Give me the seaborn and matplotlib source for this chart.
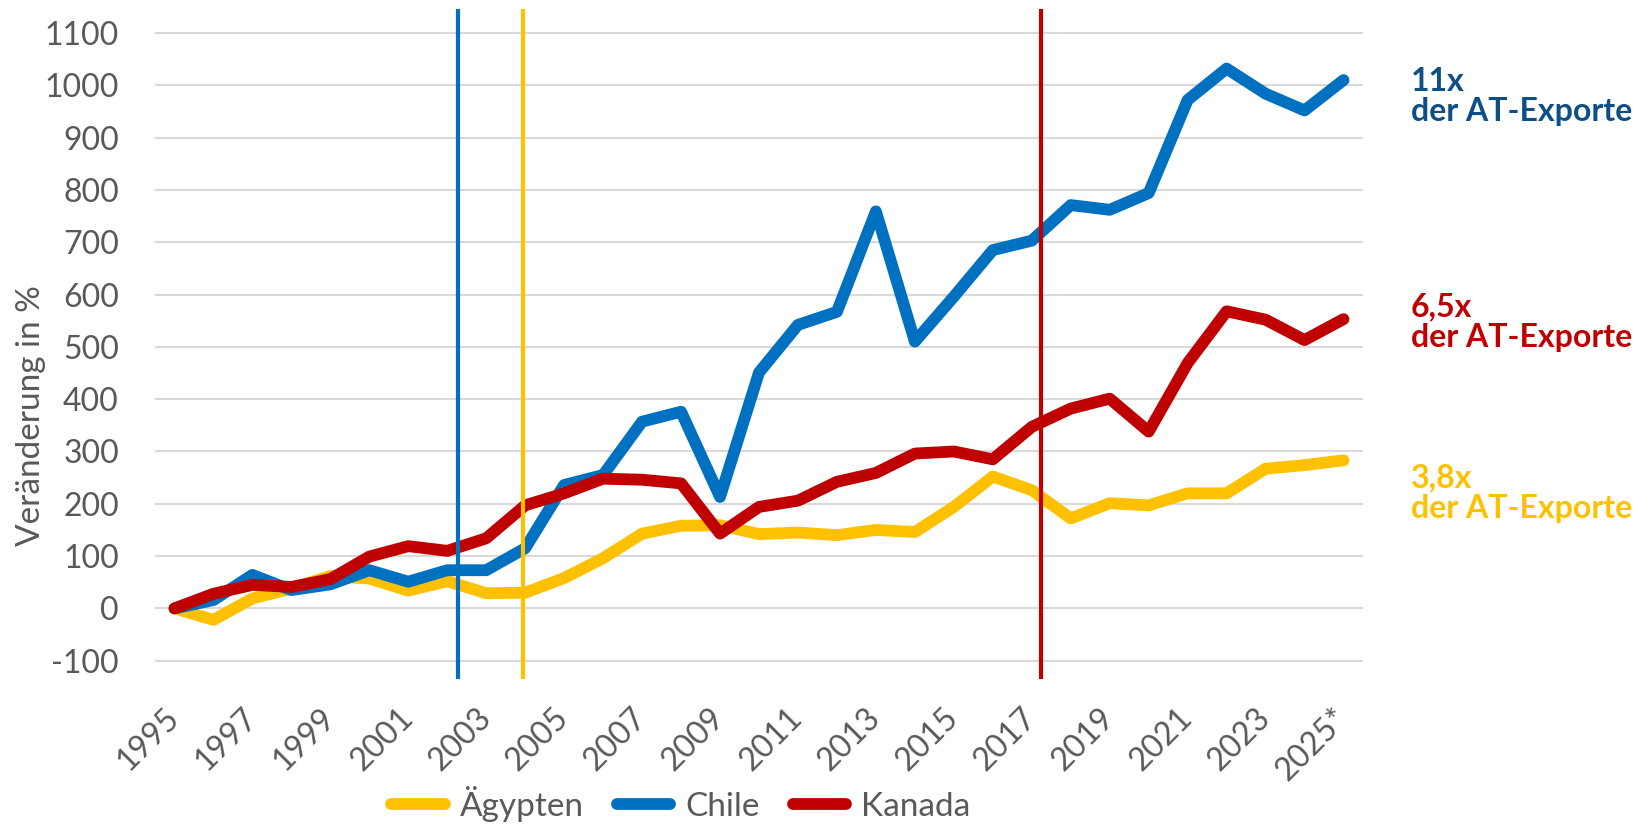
import pandas as pd
import numpy as np
import matplotlib
matplotlib.use("Agg")
import matplotlib.pyplot as plt
import seaborn as sns

# Values (change vs. 1995 in %)
years = [str(y) for y in range(1995, 2025)] + ["2025*"]
aegypten = [0, -22, 19, 38, 62, 57, 34, 52, 29, 30, 58, 96, 143, 158, 159, 142,
            145, 140, 150, 146, 194, 252, 226, 172, 201, 197, 220, 220, 267, 274, 283]
chile = [0, 16, 64, 35, 46, 73, 51, 73, 73, 115, 236, 255, 357, 376, 213, 451,
         542, 567, 759, 510, 596, 685, 703, 771, 762, 794, 972, 1032, 984, 952, 1010]
kanada = [0, 28, 45, 41, 56, 99, 119, 110, 134, 197, 220, 248, 246, 239, 143, 194,
          206, 242, 259, 296, 300, 285, 347, 382, 401, 338, 469, 568, 552, 513, 553]
countries = ["Ägypten", "Chile", "Kanada"]
colors = ["#FFC000", "#0070C0", "#C00000"]
# marker lines (position on the year axis, index-based)
marker_pos = [7.28, 8.95, 22.24]
marker_colors = ["#0070C0", "#FFC000", "#C00000"]
# annotations: (line 1, line 2, y of baseline 1, y of baseline 2, colour)
notes = [("11x", "der AT-Exporte", 990, 931, "#0D4E86"),
         ("6,5x", "der AT-Exporte", 558, 499, "#C00000"),
         ("3,8x", "der AT-Exporte", 231, 173, "#FFC000")]

df = pd.DataFrame({
    "idx": list(range(len(years))) * 3,
    "Land": np.repeat(countries, len(years)),
    "Wert": aegypten + chile + kanada,
})

sns.set_style("white")
plt.rcParams["font.family"] = ["Lato", "DejaVu Sans"]
plt.rcParams["axes.unicode_minus"] = False
grey = "#595959"

fig = plt.figure(figsize=(16.45, 8.24), dpi=100)
ax = fig.add_axes([155 / 1645, 1 - 678.7 / 824, 1208 / 1645, (678.7 - 9) / 824])

sns.lineplot(data=df, x="idx", y="Wert", hue="Land", hue_order=countries,
             palette=colors, linewidth=8.5, ax=ax, sort=False,
             solid_capstyle="round", solid_joinstyle="round", zorder=3)

for pos, c in zip(marker_pos, marker_colors):
    ax.axvline(pos, color=c, linewidth=3, zorder=4)

ax.set_xlim(-0.5, len(years) - 0.5)
ax.set_ylim(-134.4, 1145.9)
ax.set_yticks(range(-100, 1101, 100))
ax.set_xticks(range(0, len(years), 2))
ax.set_xticklabels(years[::2], rotation=45, ha="right", va="center",
                   rotation_mode="anchor")
ax.tick_params(axis="x", length=0, pad=25, labelsize=23, labelcolor=grey)
ax.tick_params(axis="y", length=0, pad=26, labelsize=23, labelcolor=grey)
ax.grid(axis="y", color="#D9D9D9", linewidth=1.5, zorder=0)
ax.grid(axis="x", visible=False)
for s in ax.spines.values():
    s.set_visible(False)
ax.set_xlabel("")
ax.set_ylabel("")
fig.text(31 / 1645, 1 - 416 / 824, "Veränderung in %", rotation=90,
         ha="center", va="center", fontsize=24, color=grey)

for l1, l2, y1, y2, c in notes:
    ax.text(31.73, y1, l1, color=c, fontsize=23, fontweight="bold",
            va="baseline", ha="left", clip_on=False)
    ax.text(31.73, y2, l2, color=c, fontsize=23, fontweight="bold",
            va="baseline", ha="left", clip_on=False)

handles, labels = ax.get_legend_handles_labels()
ax.get_legend().remove()
leg = fig.legend(handles, labels, loc="center", ncol=3, frameon=False,
                 bbox_to_anchor=(681 / 1645, 1 - 804 / 824), fontsize=24,
                 handlelength=1.6, handletextpad=0.45, columnspacing=1.0,
                 labelcolor=grey)
for h in leg.legend_handles:
    h.set_linewidth(8.5)
    h.set_solid_capstyle("round")

fig.savefig("out.png", dpi=100)
